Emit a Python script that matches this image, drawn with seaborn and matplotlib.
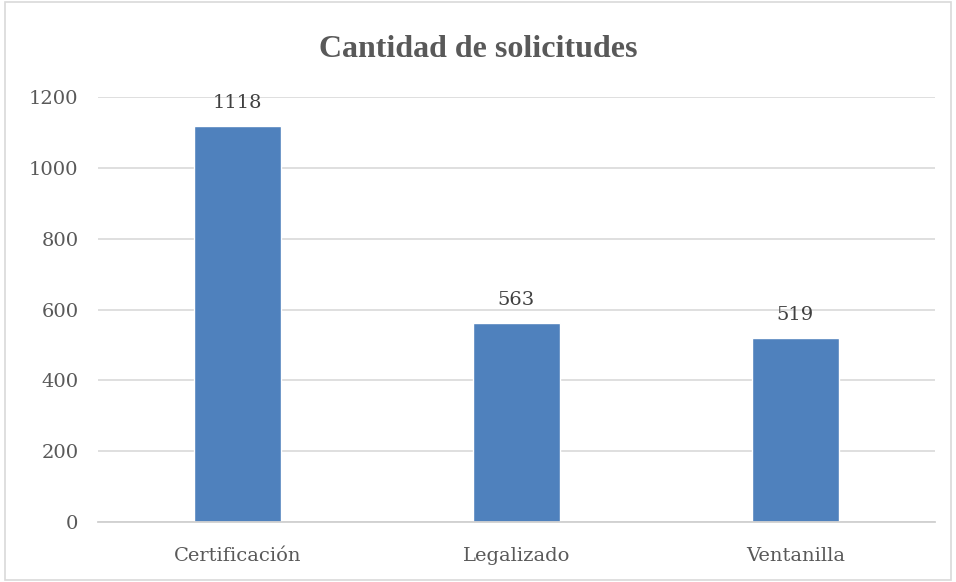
import pandas as pd
import matplotlib
matplotlib.use("Agg")
import matplotlib.pyplot as plt
import seaborn as sns
from matplotlib.patches import Rectangle

# Data
categorias = ["Certificación", "Legalizado", "Ventanilla"]
solicitudes = [1118, 563, 519]
y_ticks = [0, 200, 400, 600, 800, 1000, 1200]

df = pd.DataFrame({"categoria": categorias, "solicitudes": solicitudes})

sns.set_style("white")
plt.rcParams["font.family"] = ["DejaVu Serif"]

fig = plt.figure(figsize=(9.56, 5.82), dpi=100)
ax = fig.add_axes([0.1025, 0.1031, 0.8755, 0.7302])

sns.barplot(data=df, x="categoria", y="solicitudes", color="#4F81BD",
            width=0.315, saturation=1, ax=ax)

ax.set_xlim(-0.5, 2.5)
ax.set_ylim(0, 1200)
ax.set_yticks(y_ticks)
ax.set_xlabel("")
ax.set_ylabel("")
ax.yaxis.grid(True, color="#D9D9D9", linewidth=1.2)
ax.set_axisbelow(True)
for s in ["top", "right", "left"]:
    ax.spines[s].set_visible(False)
ax.spines["bottom"].set_color("#D0D0D0")
ax.spines["bottom"].set_linewidth(1.3)
ax.tick_params(axis="both", length=0, colors="#595959", labelsize=14)
ax.tick_params(axis="y", pad=14)
ax.tick_params(axis="x", pad=18)

ax.bar_label(ax.containers[0], fontsize=14, color="#404040", padding=10)

fig.suptitle("Cantidad de solicitudes", y=0.94, fontsize=23,
             fontweight="bold", color="#595959", x=0.5,
             family=["Liberation Serif"])

# chart border
fig.patches.append(Rectangle((0.005, 0.003), 0.99, 0.994, transform=fig.transFigure,
                             fill=False, edgecolor="#D9D9D9", linewidth=1.2))

fig.savefig("out.png", dpi=100)
